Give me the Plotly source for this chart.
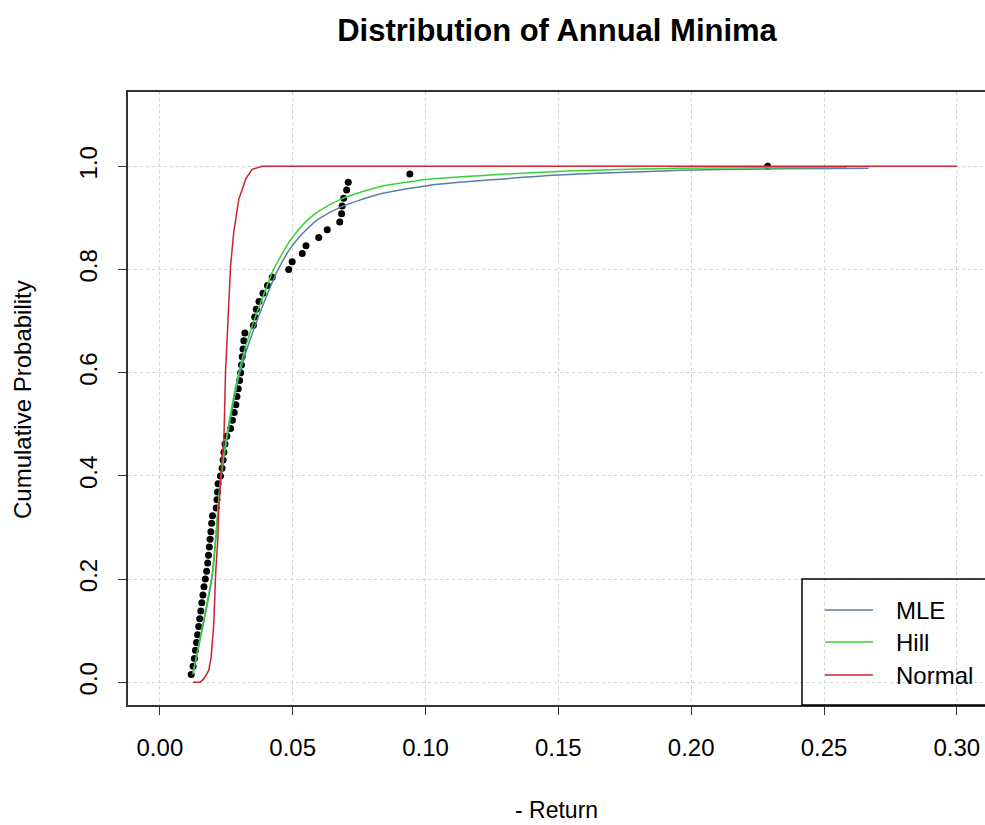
import plotly.graph_objects as go

# Observed annual minima (negated returns), sorted, with empirical probabilities
neg_return = [
    0.0118, 0.0125, 0.0130, 0.0134, 0.0138, 0.0142, 0.0146, 0.0150, 0.0154, 0.0158,
    0.0162, 0.0166, 0.0171, 0.0176, 0.0180, 0.0183, 0.0186, 0.0189, 0.0192, 0.0195,
    0.0198, 0.0212, 0.0215, 0.0217, 0.0219, 0.0228, 0.0234, 0.0238, 0.0241, 0.0245,
    0.0252, 0.0266, 0.0273, 0.0280, 0.0286, 0.0290, 0.0295, 0.0300, 0.0304, 0.0307,
    0.0310, 0.0313, 0.0316, 0.0320, 0.0352, 0.0357, 0.0363, 0.0373, 0.0388, 0.0405,
    0.0423, 0.0485, 0.0498, 0.0536, 0.0550, 0.0598, 0.0630, 0.0677, 0.0684, 0.0686,
    0.0692, 0.0703, 0.0709, 0.0941, 0.2288,
]
emp_prob = [
    0.015, 0.031, 0.046, 0.062, 0.077, 0.092, 0.108, 0.123, 0.138, 0.154,
    0.169, 0.185, 0.200, 0.215, 0.231, 0.246, 0.262, 0.277, 0.292, 0.308,
    0.323, 0.338, 0.354, 0.369, 0.385, 0.400, 0.415, 0.431, 0.446, 0.462,
    0.477, 0.492, 0.508, 0.523, 0.538, 0.554, 0.569, 0.585, 0.600, 0.615,
    0.631, 0.646, 0.662, 0.677, 0.692, 0.708, 0.723, 0.738, 0.754, 0.769,
    0.785, 0.800, 0.815, 0.831, 0.846, 0.862, 0.877, 0.892, 0.908, 0.923,
    0.938, 0.954, 0.969, 0.985, 1.000,
]

# Fitted CDF curves
mle_x = [0.0124, 0.0197, 0.0228, 0.0260, 0.0304, 0.0347, 0.0423, 0.0448, 0.0485,
         0.0523, 0.0561, 0.0598, 0.0680, 0.0824, 0.1012, 0.1500, 0.2050, 0.2668]
mle_y = [0.015, 0.205, 0.385, 0.495, 0.605, 0.675, 0.775, 0.803, 0.836,
         0.862, 0.882, 0.898, 0.921, 0.946, 0.963, 0.983, 0.9935, 0.996]

hill_x = [0.0124, 0.0197, 0.0228, 0.0260, 0.0304, 0.0347, 0.0423, 0.0448, 0.0485,
          0.0523, 0.0561, 0.0598, 0.0680, 0.0824, 0.1012, 0.1500, 0.2050, 0.2586]
hill_y = [0.017, 0.211, 0.392, 0.503, 0.615, 0.690, 0.794, 0.819, 0.852,
          0.878, 0.898, 0.913, 0.936, 0.960, 0.975, 0.990, 0.9965, 0.998]

norm_x = [0.0124, 0.0151, 0.0166, 0.0184, 0.0193, 0.0203, 0.0210, 0.0218, 0.0222,
          0.0228, 0.0234, 0.0241, 0.0247, 0.0253, 0.0266, 0.0278, 0.0297, 0.0323,
          0.0347, 0.0385, 0.3000]
norm_y = [0.000, 0.000, 0.007, 0.023, 0.049, 0.115, 0.212, 0.276, 0.340,
          0.392, 0.437, 0.470, 0.600, 0.664, 0.806, 0.872, 0.936, 0.975,
          0.994, 1.000, 1.000]

x_ticks = [0.00, 0.05, 0.10, 0.15, 0.20, 0.25, 0.30]
x_tick_text = ["0.00", "0.05", "0.10", "0.15", "0.20", "0.25", "0.30"]
y_ticks = [0.0, 0.2, 0.4, 0.6, 0.8, 1.0]
y_tick_text = ["0.0", "0.2", "0.4", "0.6", "0.8", "1.0"]

legend_names = ["MLE", "Hill", "Normal"]
col_mle = "#5A7FA8"
col_hill = "#35D435"
col_norm = "#CC2233"
legend_cols = [col_mle, col_hill, col_norm]

FONT = "Liberation Sans, Arial, sans-serif"

fig = go.Figure()
fig.add_trace(go.Scatter(x=neg_return, y=emp_prob, mode="markers",
                         marker=dict(color="black", size=7), name="Empirical",
                         showlegend=False))
fig.add_trace(go.Scatter(x=mle_x, y=mle_y, mode="lines",
                         line=dict(color=col_mle, width=1.5, shape="spline", smoothing=0.6),
                         showlegend=False))
fig.add_trace(go.Scatter(x=hill_x, y=hill_y, mode="lines",
                         line=dict(color=col_hill, width=1.5, shape="spline", smoothing=0.6),
                         showlegend=False))
fig.add_trace(go.Scatter(x=norm_x, y=norm_y, mode="lines",
                         line=dict(color=col_norm, width=1.5), showlegend=False))

# Legend box (open on the right where it runs past the figure edge)
shapes = [dict(type="rect", xref="paper", yref="paper",
               x0=(802 - 128) / 857, x1=1.05, y0=0, y1=(705 - 579) / 613,
               line=dict(color="black", width=1.5), fillcolor="rgba(0,0,0,0)")]
annotations = []
legend_rows = [610, 642, 675]
for name, col, py in zip(legend_names, legend_cols, legend_rows):
    yp = (705 - py) / 613
    shapes.append(dict(type="line", xref="paper", yref="paper",
                       x0=(825 - 128) / 857, x1=(873 - 128) / 857, y0=yp, y1=yp,
                       line=dict(color=col, width=1.5)))
    annotations.append(dict(text=name, xref="paper", yref="paper",
                            x=(894 - 128) / 857, y=yp, xanchor="left", yanchor="middle",
                            showarrow=False, font=dict(family=FONT, size=24, color="black")))

annotations.append(dict(text="- Return", xref="paper", yref="paper",
                        x=0.5, y=-(810 - 705) / 613, xanchor="center", yanchor="middle",
                        showarrow=False, font=dict(family=FONT, size=23, color="black")))
annotations.append(dict(text="Cumulative Probability", xref="paper", yref="paper",
                        x=-(128 - 22) / 857, y=(705 - 400) / 613, xanchor="center",
                        yanchor="middle", textangle=-90, showarrow=False,
                        font=dict(family=FONT, size=24, color="black")))

grid = dict(showgrid=True, gridcolor="#D3D3D3", griddash="3px,3px", gridwidth=1)

fig.update_layout(
    width=985, height=825,
    margin=dict(l=128, r=0, t=92, b=120),
    plot_bgcolor="white", paper_bgcolor="white",
    title=dict(text="<b>Distribution of Annual Minima</b>", x=557 / 985, xanchor="center",
               y=1 - 30 / 825, yanchor="middle",
               font=dict(family=FONT, size=31, color="black")),
    xaxis=dict(range=[-0.012, 0.3106], tickvals=x_ticks, ticktext=x_tick_text,
               ticks="outside", ticklen=8, tickcolor="#333", showline=True,
               linecolor="#333", linewidth=1.5, mirror=True, zeroline=False,
               ticklabelstandoff=12,
               tickfont=dict(family=FONT, size=24, color="black"), **grid),
    yaxis=dict(range=[-0.044, 1.144], tickvals=y_ticks, ticktext=y_tick_text,
               ticks="outside", ticklen=8, tickcolor="#333", showline=True,
               linecolor="#333", linewidth=1.5, mirror=False, zeroline=False,
               tickangle=-90, ticklabelstandoff=12,
               tickfont=dict(family=FONT, size=24, color="black"), **grid),
    shapes=shapes,
    annotations=annotations,
)

fig.write_html("out.html")
